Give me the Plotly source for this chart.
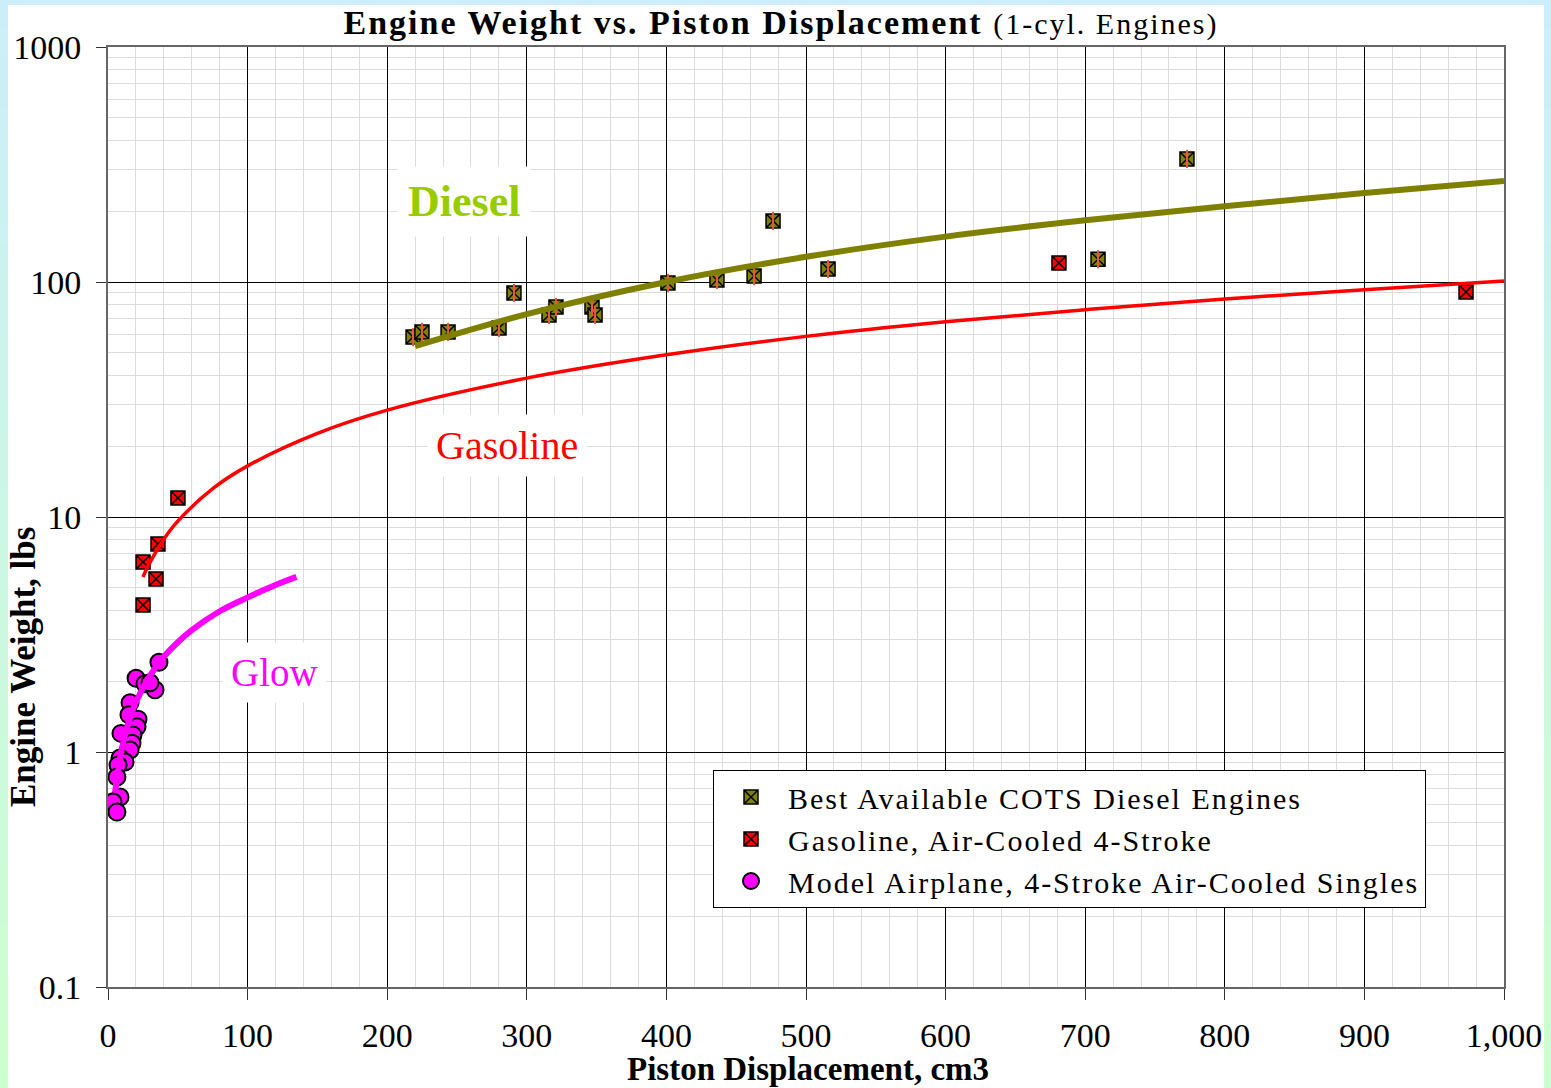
import plotly.graph_objects as go

# ---------------- data ----------------
diesel_x = [218.5, 224.9, 243.6, 280.1, 290.8, 315.9, 320.9, 346.7, 348.9, 401.1, 436.2, 462.8, 476.4, 515.8, 709.2, 772.9]
diesel_y = [58.3, 61.3, 61.3, 63.7, 89.8, 72.4, 78.3, 78.3, 72.4, 99, 102, 106, 182, 113.5, 125, 334]

gas_x = [25.1, 25.1, 34.4, 35.8, 50.1, 681.2, 972.8]
gas_y = [6.43, 4.22, 5.45, 7.67, 12.05, 120.5, 90.7]

glow_x = [36.5, 20.1, 26.5, 33.7, 30.1, 15.8, 15.0, 21.5, 20.8, 9.3, 17.9, 17.2, 15.8, 8.6, 12.2, 7.2, 6.4, 8.6, 3.6, 6.4]
glow_y = [2.41, 2.06, 1.95, 1.84, 1.97, 1.62, 1.44, 1.38, 1.28, 1.20, 1.18, 1.09, 1.02, 0.943, 0.906, 0.88, 0.783, 0.643, 0.613, 0.555]

diesel_fit_x = [220, 300, 400, 500, 600, 700, 800, 900, 1000]
diesel_fit_y = [53.4, 73, 100, 128, 156, 183, 210, 239, 269]

gas_fit_x = [25, 30, 40, 50, 75, 100, 150, 200, 300, 400, 500, 600, 700, 800, 900, 1000]
gas_fit_y = [5.56, 6.4, 8.05, 9.6, 13.2, 16.5, 22.7, 28.5, 39, 49, 58.7, 67.7, 76.2, 84.6, 92.7, 101]

glow_fit_x = [5, 10, 15, 20, 30, 40, 50, 60, 80, 100, 120, 135]
glow_fit_y = [0.67, 1.04, 1.35, 1.63, 2.11, 2.54, 2.93, 3.3, 3.97, 4.55, 5.14, 5.56]

y_tickvals = [0.1, 1, 10, 100, 1000]
y_ticktext = ["0.1", "1", "10", "100", "1000"]
y_minor = [m * d for d in [0.1, 1, 10, 100] for m in range(2, 10)]

series_names = ["Best Available COTS Diesel Engines",
                "Gasoline, Air-Cooled 4-Stroke",
                "Model Airplane, 4-Stroke Air-Cooled Singles"]

FONT = "Liberation Serif, Times New Roman, serif"
OLIVE = "#808000"


def spaced(s, px):
    return "<span style='letter-spacing:%gpx'>%s</span>" % (px, s)


fig = go.Figure()

# markers
fig.add_trace(go.Scatter(x=diesel_x, y=diesel_y, mode="markers", name=spaced(series_names[0], 2),
                         marker=dict(symbol="square-x", size=14, color=OLIVE,
                                     line=dict(color="black", width=1.5))))
fig.add_trace(go.Scatter(x=diesel_x, y=diesel_y, mode="markers", showlegend=False, hoverinfo="skip",
                         marker=dict(symbol="line-ns-open", size=13,
                                     line=dict(color="black", width=2))))
fig.add_trace(go.Scatter(x=gas_x, y=gas_y, mode="markers", name=spaced(series_names[1], 2),
                         marker=dict(symbol="square-x", size=14, color="red",
                                     line=dict(color="black", width=1.5))))
fig.add_trace(go.Scatter(x=glow_x, y=glow_y, mode="markers", name=spaced(series_names[2], 2),
                         marker=dict(symbol="circle", size=17, color="#ff00ff",
                                     line=dict(color="black", width=2))))

# trend curves (drawn over markers)
fig.add_trace(go.Scatter(x=diesel_fit_x, y=diesel_fit_y, mode="lines", showlegend=False,
                         line=dict(color=OLIVE, width=6, shape="spline")))
fig.add_trace(go.Scatter(x=gas_fit_x, y=gas_fit_y, mode="lines", showlegend=False,
                         line=dict(color="red", width=3.5, shape="spline")))
fig.add_trace(go.Scatter(x=glow_fit_x, y=glow_fit_y, mode="lines", showlegend=False,
                         line=dict(color="#ff00ff", width=6, shape="spline")))

# plot-area pixel geometry
W, H = 1551, 1088
L, R, T, B = 108, 47, 47, 101
PW, PH = W - L - R, H - T - B


def px_x(p):
    return (p - L) / PW


def px_y(p):
    return (H - B - p) / PH


fig.update_layout(
    width=W, height=H, autosize=False,
    margin=dict(l=L, r=R, t=T, b=B, autoexpand=False),
    paper_bgcolor="white", plot_bgcolor="white",
    font=dict(family=FONT, color="black", size=32),
    title=dict(text=spaced("<b>Engine Weight vs. Piston Displacement</b> <span style='font-size:30px'>(1-cyl. Engines)</span>", 2),
               x=781 / W, xref="container", xanchor="center",
               y=1 - 22 / H, yref="container", yanchor="middle",
               font=dict(family=FONT, size=34, color="black")),
    showlegend=True,
    legend=dict(x=px_x(713), y=px_y(770), xanchor="left", yanchor="top",
                bgcolor="white", bordercolor="black", borderwidth=1,
                font=dict(family=FONT, size=30, color="black"),
                itemwidth=64, tracegroupgap=0),
)

fig.update_xaxes(range=[0, 1000], tick0=0, dtick=100, tickformat=",d", automargin=False,
                 ticks="outside", ticklen=11, tickcolor="#333", tickwidth=1,
                 ticklabelstandoff=6,
                 showline=True, linecolor="#666", linewidth=2, mirror=True,
                 showgrid=True, gridcolor="black", gridwidth=1, zeroline=False,
                 tickfont=dict(family=FONT, size=34),
                 minor=dict(dtick=20, tick0=0, showgrid=True, gridcolor="#dcdcdc", gridwidth=1, ticks=""))

fig.update_yaxes(type="log", range=[-1, 3], tickmode="array", tickvals=y_tickvals, ticktext=y_ticktext,
                 automargin=False,
                 ticks="outside", ticklen=10, tickcolor="#333", tickwidth=1,
                 ticklabelstandoff=8,
                 showline=True, linecolor="#666", linewidth=2, mirror=True,
                 showgrid=True, gridcolor="black", gridwidth=1, zeroline=False,
                 tickfont=dict(family=FONT, size=34),
                 minor=dict(tickmode="array", tickvals=y_minor, showgrid=True, gridcolor="#dcdcdc",
                            gridwidth=1, ticks=""))

# axis titles
fig.add_annotation(text="<b>Piston Displacement, cm3</b>", xref="paper", yref="paper",
                   x=px_x(808), y=px_y(1069), xanchor="center", yanchor="middle", showarrow=False,
                   font=dict(family=FONT, size=33, color="black"))
fig.add_annotation(text="<b>Engine Weight, lbs</b>", xref="paper", yref="paper",
                   x=px_x(23), y=px_y(667), xanchor="center", yanchor="middle", showarrow=False,
                   textangle=-90, font=dict(family=FONT, size=35, color="black"))

# series labels
fig.add_annotation(text="<b>Diesel</b>", x=255, y=2.3447, xref="x", yref="y", showarrow=False,
                   bgcolor="white", borderpad=10, font=dict(family=FONT, size=44, color="#99cc00"))
fig.add_annotation(text="Gasoline", x=285.8, y=1.3064, xref="x", yref="y", showarrow=False,
                   bgcolor="white", borderpad=8, font=dict(family=FONT, size=40, color="red"))
fig.add_annotation(text="Glow", x=119.6, y=0.3362, xref="x", yref="y", showarrow=False,
                   bgcolor="white", borderpad=8, font=dict(family=FONT, size=39, color="#ff00ff"))

# decorative frame (gradient blue -> green on sides, blue on top)
top_c = (204, 238, 250)
bot_c = (204, 255, 206)
N = 40
for i in range(N):
    t = (i + 0.5) / N
    c = tuple(int(round(top_c[k] + (bot_c[k] - top_c[k]) * t)) for k in range(3))
    col = "rgb(%d,%d,%d)" % c
    p0 = H * i / N
    p1 = H * (i + 1) / N + 1
    for xa, xb in [(0, 8), (1544, W)]:
        fig.add_shape(type="rect", xref="paper", yref="paper",
                      x0=px_x(xa), x1=px_x(xb), y0=px_y(p1), y1=px_y(p0),
                      fillcolor=col, line=dict(width=0), layer="above")
fig.add_shape(type="rect", xref="paper", yref="paper",
              x0=px_x(0), x1=px_x(W), y0=px_y(5), y1=px_y(0),
              fillcolor="rgb(%d,%d,%d)" % top_c, line=dict(width=0), layer="above")

fig.write_html("out.html")
